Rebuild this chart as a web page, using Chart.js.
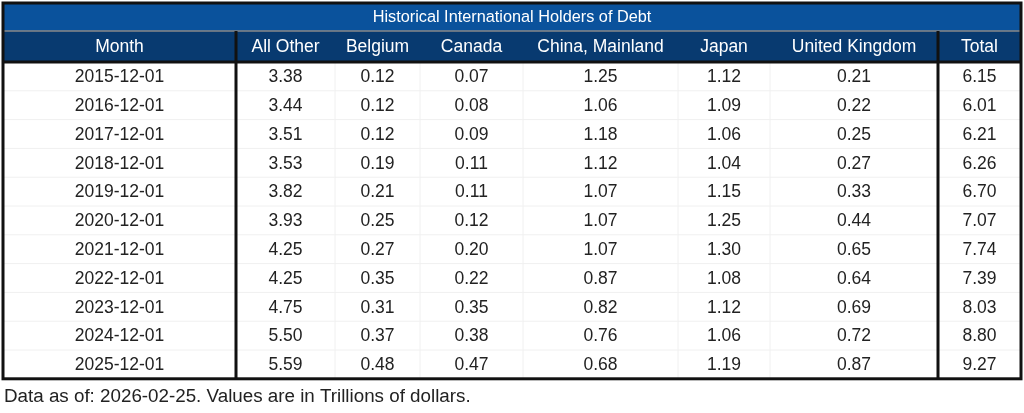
<!DOCTYPE html>
<html><head><meta charset="utf-8">
<script src="https://cdn.jsdelivr.net/npm/chart.js@4"></script>
<style>html,body{margin:0;padding:0;background:#fff}#w{width:1024px;height:413px}</style>
</head><body><div id="w"><canvas id="c"></canvas></div>
<script>
const title = "Historical International Holders of Debt";
const headers = ["Month","All Other","Belgium","Canada","China, Mainland","Japan","United Kingdom","Total"];
const months = ["2015-12-01","2016-12-01","2017-12-01","2018-12-01","2019-12-01","2020-12-01","2021-12-01","2022-12-01","2023-12-01","2024-12-01","2025-12-01"];
const allOther = [3.38,3.44,3.51,3.53,3.82,3.93,4.25,4.25,4.75,5.50,5.59];
const belgium = [0.12,0.12,0.12,0.19,0.21,0.25,0.27,0.35,0.31,0.37,0.48];
const canada = [0.07,0.08,0.09,0.11,0.11,0.12,0.20,0.22,0.35,0.38,0.47];
const china = [1.25,1.06,1.18,1.12,1.07,1.07,1.07,0.87,0.82,0.76,0.68];
const japan = [1.12,1.09,1.06,1.04,1.15,1.25,1.30,1.08,1.12,1.06,1.19];
const uk = [0.21,0.22,0.25,0.27,0.33,0.44,0.65,0.64,0.69,0.72,0.87];
const total = [6.15,6.01,6.21,6.26,6.70,7.07,7.74,7.39,8.03,8.80,9.27];
const footnote = "Data as of: 2026-02-25. Values are in Trillions of dollars.";

const colEdges = [3,236,335,420,523,678,770,938,1021];
const FONT = '"Liberation Sans", Arial, sans-serif';

const tablePlugin = {
  id:'table',
  afterDraw(chart){
    const ctx = chart.ctx, X = chart.scales.x, Y = chart.scales.y;
    const px = v => X.getPixelForValue(v), py = v => Y.getPixelForValue(v);
    const cols = [months, allOther, belgium, canada, china, japan, uk, total];
    const top = 3, titleB = 31, headB = 62, rowH = 28.8, bot = headB + rowH*months.length;
    ctx.save();
    ctx.fillStyle = '#0a529c';
    ctx.fillRect(px(3), py(top), px(1021)-px(3), py(titleB)-py(top));
    ctx.fillStyle = '#083a70';
    ctx.fillRect(px(3), py(titleB), px(1021)-px(3), py(headB)-py(titleB));
    ctx.strokeStyle='#888'; ctx.lineWidth=1.5;
    ctx.beginPath(); ctx.moveTo(px(3),py(titleB)); ctx.lineTo(px(1021),py(titleB)); ctx.stroke();
    ctx.textAlign='center'; ctx.textBaseline='middle';
    ctx.fillStyle='#fff'; ctx.font='16.3px '+FONT;
    ctx.fillText(title, px(512), py((top+titleB)/2+1));
    ctx.font='17.5px '+FONT;
    headers.forEach((h,i)=>ctx.fillText(h, px((colEdges[i]+colEdges[i+1])/2), py((titleB+headB)/2+1)));
    ctx.strokeStyle='#f0f0f0'; ctx.lineWidth=1;
    for(let r=1;r<months.length;r++){ctx.beginPath();ctx.moveTo(px(3),py(headB+r*rowH));ctx.lineTo(px(1021),py(headB+r*rowH));ctx.stroke();}
    [335,420,523,678,770].forEach(e=>{ctx.beginPath();ctx.moveTo(px(e),py(headB));ctx.lineTo(px(e),py(bot));ctx.stroke();});
    ctx.fillStyle='#222'; ctx.font='17.5px '+FONT;
    for(let r=0;r<months.length;r++){
      const cy = py(headB + rowH*(r+0.5) + 1);
      cols.forEach((c,i)=>{
        const v = c[r]; const s = typeof v==='number'? v.toFixed(2): v;
        ctx.fillText(s, px((colEdges[i]+colEdges[i+1])/2), cy);
      });
    }
    ctx.strokeStyle='#111'; ctx.lineWidth=3;
    ctx.strokeRect(px(3), py(top), px(1021)-px(3), py(bot)-py(top));
    [236,938].forEach(e=>{ctx.beginPath();ctx.moveTo(px(e),py(titleB));ctx.lineTo(px(e),py(bot));ctx.stroke();});
    ctx.beginPath();ctx.moveTo(px(3),py(headB));ctx.lineTo(px(1021),py(headB));ctx.stroke();
    ctx.textAlign='left'; ctx.fillStyle='#222'; ctx.font='18.8px '+FONT;
    ctx.fillText(footnote, px(4), py(397));
    ctx.restore();
  }
};

new Chart(document.getElementById('c'), {
  type:'scatter',
  data:{datasets:[{data:[]}]},
  options:{
    responsive:true, maintainAspectRatio:false, animation:false,
    layout:{padding:0},
    plugins:{legend:{display:false},tooltip:{enabled:false}},
    scales:{
      x:{type:'linear',min:0,max:1024,display:false},
      y:{type:'linear',min:0,max:413,reverse:true,display:false}
    }
  },
  plugins:[tablePlugin]
});
</script></body></html>
